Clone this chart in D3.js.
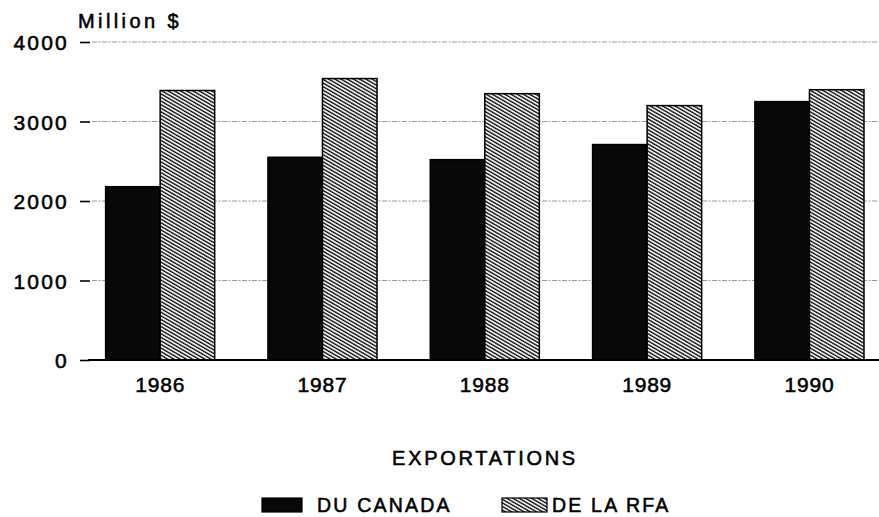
<!DOCTYPE html>
<html>
<head>
<meta charset="utf-8">
<script src="https://cdn.jsdelivr.net/npm/d3@7"></script>
<style>
  html, body { margin: 0; padding: 0; background: #fff; }
  svg { display: block; font-family: "Liberation Sans", Arial, Helvetica, sans-serif; }
  text { stroke: #000; stroke-width: 0.55px; fill: #000; }
</style>
</head>
<body>
<svg id="chart" width="879" height="517"></svg>
<script>
const years = ["1986", "1987", "1988", "1989", "1990"];
const canada = [2180, 2550, 2520, 2710, 3250];
const rfa = [3390, 3540, 3350, 3200, 3400];
const yTicks = [0, 1000, 2000, 3000, 4000];
const seriesKeys = ["canada", "rfa"];
const seriesLabels = ["DU CANADA", "DE LA RFA"];
const yUnit = "Million $";
const legendTitle = "EXPORTATIONS";

const svg = d3.select("#chart");

const defs = svg.append("defs");
const pat = defs.append("pattern")
  .attr("id", "hatch")
  .attr("patternUnits", "userSpaceOnUse")
  .attr("width", 8).attr("height", 3.1)
  .attr("patternTransform", "rotate(30)");
pat.append("rect").attr("width", 8).attr("height", 3.1).attr("fill", "#fff");
pat.append("line").attr("x1", 0).attr("x2", 8).attr("y1", 1).attr("y2", 1)
  .attr("stroke", "#000").attr("stroke-width", 1.35);

const x = d3.scaleBand().domain(years).range([79, 890.6]).paddingInner(0.328).paddingOuter(0.164);
const xs = d3.scaleBand().domain(seriesKeys).range([0, x.bandwidth()]);
const y = d3.scaleLinear().domain([0, 4000]).range([360, 42]);

// gridlines
svg.append("g").selectAll("line").data(yTicks.filter(d => d > 0)).join("line")
  .attr("x1", 92).attr("x2", 879)
  .attr("y1", d => y(d)).attr("y2", d => y(d))
  .attr("stroke", "#9a9a9a").attr("stroke-width", 1.2)
  .attr("stroke-dasharray", "5,1.5,2,1.5");

// y axis via d3 axis (ticks only, no domain)
const yAxis = svg.append("g").attr("transform", "translate(90,0)")
  .call(d3.axisLeft(y).tickValues(yTicks).tickSize(10).tickPadding(11).tickFormat(d3.format("d")));
yAxis.select(".domain").remove();
yAxis.selectAll(".tick line").attr("stroke", "#000").attr("stroke-width", 1.6);
yAxis.selectAll(".tick text").attr("font-size", 21).attr("fill", "#000")
  .attr("font-family", "Liberation Sans, Arial, sans-serif")
  .attr("letter-spacing", "2.2px").attr("dy", "0.36em");

// bars
const data = years.map((yr, i) => ({ year: yr, canada: canada[i], rfa: rfa[i] }));
const groups = svg.append("g").selectAll("g").data(data).join("g")
  .attr("transform", d => `translate(${x(d.year)},0)`);
groups.selectAll("rect").data(d => seriesKeys.map(k => ({ key: k, value: d[k] }))).join("rect")
  .attr("x", d => xs(d.key))
  .attr("y", d => y(d.value))
  .attr("width", xs.bandwidth())
  .attr("height", d => y(0) - y(d.value))
  .attr("fill", d => d.key === "canada" ? "#080808" : "url(#hatch)")
  .attr("stroke", "#000").attr("stroke-width", 1.5);

// baseline
svg.append("line").attr("x1", 88).attr("x2", 879).attr("y1", y(0)).attr("y2", y(0))
  .attr("stroke", "#000").attr("stroke-width", 2);

// x axis labels
const xAxis = svg.append("g").attr("transform", `translate(0,${y(0)})`)
  .call(d3.axisBottom(x).tickSize(0).tickPadding(17));
xAxis.select(".domain").remove();
xAxis.selectAll(".tick text").attr("font-size", 21).attr("fill", "#000")
  .attr("font-family", "Liberation Sans, Arial, sans-serif")
  .attr("letter-spacing", "0.8px");

// unit label
svg.append("text").attr("x", 78).attr("y", 28)
  .attr("font-size", 20).attr("letter-spacing", "3.4px")
  .text(yUnit);

// legend
svg.append("text").attr("x", 485).attr("y", 465).attr("text-anchor", "middle")
  .attr("font-size", 20).attr("letter-spacing", "2.7px")
  .text(legendTitle);

const legendX = [262, 502];
const lg = svg.append("g").selectAll("g").data(seriesKeys).join("g")
  .attr("transform", (d, i) => `translate(${legendX[i]},498)`);
lg.append("rect").attr("height", 14)
  .attr("fill", d => d === "canada" ? "#080808" : "url(#hatch)")
  .attr("stroke", "#000").attr("stroke-width", 1.2)
  .attr("width", (d, i) => i === 0 ? 40 : 45);
lg.append("text").attr("x", (d, i) => i === 0 ? 55 : 50).attr("y", 14)
  .attr("font-size", 19.5).attr("letter-spacing", "2.2px")
  .text((d, i) => seriesLabels[i]);
</script>
</body>
</html>
